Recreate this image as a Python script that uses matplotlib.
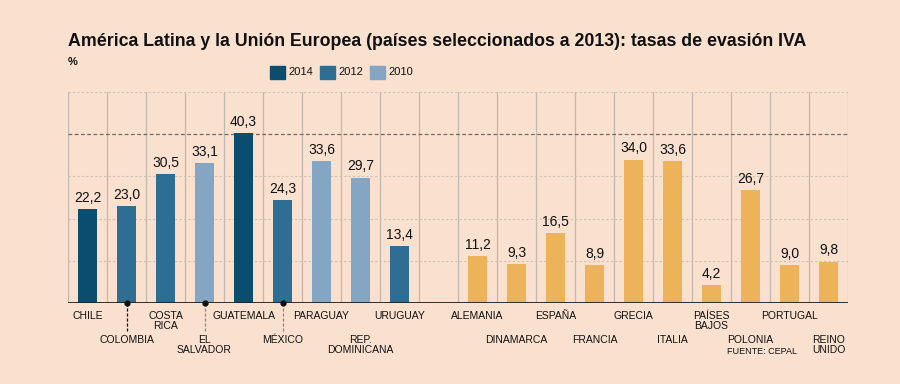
import numpy as np
import matplotlib
matplotlib.use("Agg")
from matplotlib import pyplot as plt

# datos (tasas de evasion IVA, %)
latam = ["CHILE", "COLOMBIA", "COSTA\nRICA", "EL\nSALVADOR", "GUATEMALA", "MÉXICO",
         "PARAGUAY", "REP.\nDOMINICANA", "URUGUAY"]
latam_values = [22.2, 23.0, 30.5, 33.1, 40.3, 24.3, 33.6, 29.7, 13.4]
latam_years = ["2014", "2012", "2012", "2010", "2014", "2012", "2010", "2010", "2012"]

europe = ["ALEMANIA", "DINAMARCA", "ESPAÑA", "FRANCIA", "GRECIA", "ITALIA",
          "PAÍSES\nBAJOS", "POLONIA", "PORTUGAL", "REINO\nUNIDO"]
europe_values = [11.2, 9.3, 16.5, 8.9, 34.0, 33.6, 4.2, 26.7, 9.0, 9.8]

year_colors = {"2014": "#0a4d6e", "2012": "#2f6e94", "2010": "#84a6c3"}
eu_color = "#ecb35b"
bg = "#f9e0cf"

plt.rcParams['font.family'] = ['Liberation Sans', 'DejaVu Sans']

fig = plt.figure(figsize=(9, 3.84), dpi=100, facecolor=bg)
ax = fig.add_axes([68 / 900, 81 / 384, 780 / 900, 211 / 384])
ax.set_facecolor(bg)

pos_latam = np.arange(len(latam))
pos_eu = np.arange(len(europe)) + len(latam) + 1

ax.bar(pos_latam, latam_values, width=0.5, color=[year_colors[y] for y in latam_years], zorder=3)
ax.bar(pos_eu, europe_values, width=0.5, color=eu_color, zorder=3)

for x, v in zip(list(pos_latam) + list(pos_eu), latam_values + europe_values):
    ax.text(x, v + 1.0, ("%.1f" % v).replace(".", ","), ha="center", va="bottom",
            fontsize=10, color="#111111", zorder=4)

ax.set_xlim(-0.5, 19.5)
ax.set_ylim(0, 50)

# grilla
for b in np.arange(-0.5, 20, 1):
    ax.axvline(b, color="#c2b8af", lw=0.9, zorder=1)
for g in [10, 20, 30, 50]:
    ax.axhline(g, color="#cfc2b7", lw=0.8, ls=(0, (2, 2)), zorder=1)
ax.axhline(40, color="#6e6a66", lw=0.9, ls=(0, (3, 2)), zorder=1)
ax.axhline(0, color="#222222", lw=1.3, zorder=4)

for s in ax.spines.values():
    s.set_visible(False)
ax.set_xticks([])
ax.set_yticks([])

# etiquetas de paises en dos filas (alternadas dentro de cada grupo)
leaders = {"COLOMBIA": "#111111", "EL\nSALVADOR": "#888888", "MÉXICO": "#888888"}
for group, pos in [(latam, pos_latam), (europe, pos_eu)]:
    for i, (name, x) in enumerate(zip(group, pos)):
        y = -7.6 if i % 2 == 1 else -1.9
        ax.text(x, y, name, ha="center", va="top", fontsize=7.5, linespacing=1.05,
                color="#111111", clip_on=False)
        if name in leaders:
            ax.plot([x, x], [0, -6.6], color=leaders[name], lw=0.9, ls=(0, (2.5, 1.5)),
                    clip_on=False, zorder=5)
            ax.plot(x, 0, "o", color="#111111", ms=3.5, clip_on=False, zorder=6)

fig.text(762 / 900, 1 - 352 / 384, "FUENTE: CEPAL", ha="center", va="center",
         fontsize=6.5, color="#111111")

fig.text(68 / 900, 1 - 42 / 384,
         "América Latina y la Unión Europea (países seleccionados a 2013): tasas de evasión IVA",
         ha="left", va="center", fontsize=12.8, fontweight="bold", color="#111111")
fig.text(68 / 900, 1 - 62 / 384, "%", ha="left", va="center", fontsize=8,
         fontweight="bold", color="#111111")

# leyenda
for lx, year in [(270, "2014"), (320, "2012"), (370, "2010")]:
    fig.patches.append(plt.Rectangle((lx / 900, 1 - 79 / 384), 15 / 900, 13 / 384,
                                     transform=fig.transFigure, color=year_colors[year]))
    fig.text((lx + 18) / 900, 1 - 72 / 384, year, ha="left", va="center",
             fontsize=8, color="#111111")

fig.savefig("out.png", dpi=100, facecolor=bg)
